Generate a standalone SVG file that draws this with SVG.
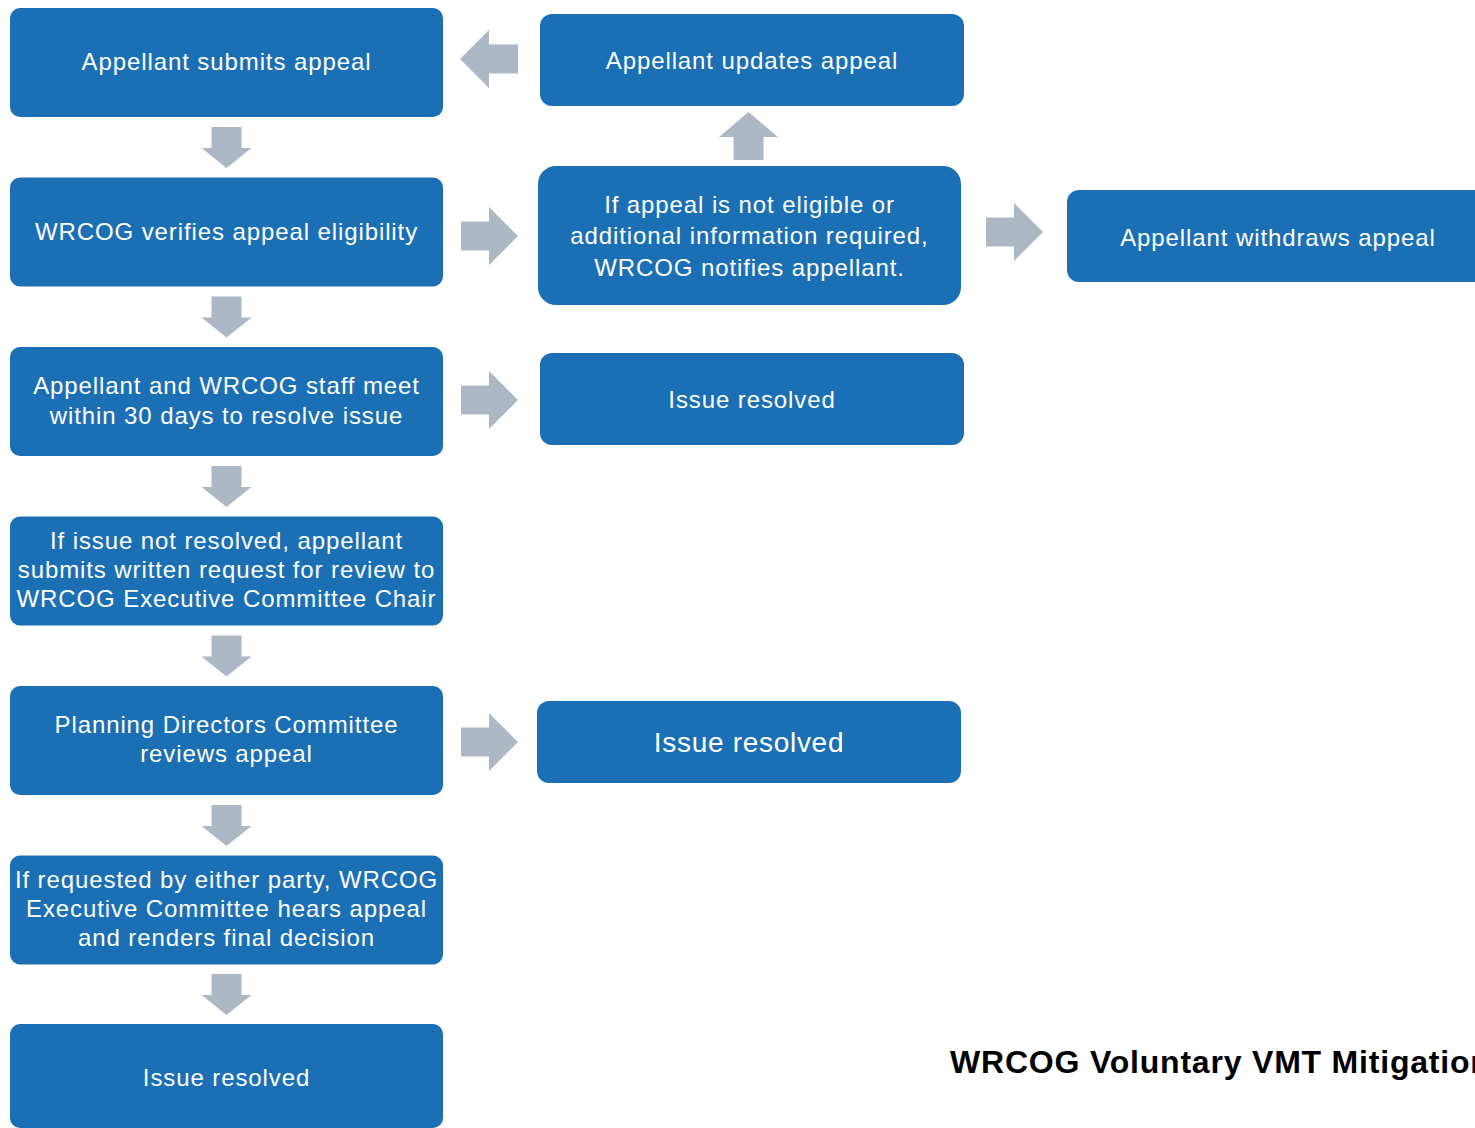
<svg xmlns="http://www.w3.org/2000/svg" width="1475" height="1128" viewBox="0 0 1475 1128">
<style>
.box{fill:#1b6fb4}
.arr{fill:#adb8c4}
.t{fill:#ffffff;font-family:"Liberation Sans",Arial,sans-serif;font-size:24px;text-anchor:middle;letter-spacing:0.9px}
.big{font-size:28px;letter-spacing:0.7px}
.title{fill:#000000;font-family:"Liberation Sans",Arial,sans-serif;font-size:32px;font-weight:bold;letter-spacing:0.8px}
</style>
<defs>
<polygon id="down" points="-15,0 15,0 15,21 25,21 0,41 -25,21 -15,21"/>
<polygon id="right" points="0,-14.5 28,-14.5 28,-29 57,0 28,29 28,14.5 0,14.5"/>
</defs>
<rect width="1475" height="1128" fill="#ffffff"/>
<g id="connectors">
<use href="#down" class="arr" x="226.5" y="127"/>
<use href="#down" class="arr" x="226.5" y="296.5"/>
<use href="#down" class="arr" x="226.5" y="466"/>
<use href="#down" class="arr" x="226.5" y="635.5"/>
<use href="#down" class="arr" x="226.5" y="805"/>
<use href="#down" class="arr" x="226.5" y="974"/>
<use href="#right" class="arr" x="461" y="236"/>
<use href="#right" class="arr" x="461" y="400"/>
<use href="#right" class="arr" x="461" y="742"/>
<use href="#right" class="arr" x="986" y="232"/>
<polygon class="arr" points="518,44.5 489,44.5 489,30 460,59 489,88 489,73.5 518,73.5"/>
<polygon class="arr" points="733.5,160 763.5,160 763.5,137 778,137 748.5,112 719,137 733.5,137"/>
</g>
<g id="n1"><rect class="box" x="10" y="8" width="433" height="109" rx="10"/><text class="t" x="226.5" y="70">Appellant submits appeal</text></g>
<g id="n2"><rect class="box" x="10" y="177.5" width="433" height="109" rx="10"/><text class="t" x="226.5" y="240">WRCOG verifies appeal eligibility</text></g>
<g id="n3"><rect class="box" x="10" y="347" width="433" height="109" rx="10"/><text class="t" x="226.5" y="394">Appellant and WRCOG staff meet</text><text class="t" x="226.5" y="424">within 30 days to resolve issue</text></g>
<g id="n4"><rect class="box" x="10" y="516.5" width="433" height="109" rx="10"/><text class="t" x="226.5" y="549">If issue not resolved, appellant</text><text class="t" x="226.5" y="578">submits written request for review to</text><text class="t" x="226.5" y="607">WRCOG Executive Committee Chair</text></g>
<g id="n5"><rect class="box" x="10" y="686" width="433" height="109" rx="10"/><text class="t" x="226.5" y="733">Planning Directors Committee</text><text class="t" x="226.5" y="762">reviews appeal</text></g>
<g id="n6"><rect class="box" x="10" y="855.5" width="433" height="109" rx="10"/><text class="t" x="226.5" y="888">If requested by either party, WRCOG</text><text class="t" x="226.5" y="917">Executive Committee hears appeal</text><text class="t" x="226.5" y="946">and renders final decision</text></g>
<g id="n7"><rect class="box" x="10" y="1024" width="433" height="104" rx="10"/><text class="t" x="226.5" y="1086">Issue resolved</text></g>
<g id="n8"><rect class="box" x="540" y="14" width="424" height="92" rx="12"/><text class="t" x="752" y="69">Appellant updates appeal</text></g>
<g id="n9"><rect class="box" x="538" y="166" width="423" height="139" rx="18"/><text class="t" x="749.5" y="213">If appeal is not eligible or</text><text class="t" x="749.5" y="244">additional information required,</text><text class="t" x="749.5" y="276">WRCOG notifies appellant.</text></g>
<g id="n10"><rect class="box" x="1067" y="190" width="430" height="92" rx="12"/><text class="t" x="1278" y="246">Appellant withdraws appeal</text></g>
<g id="n11"><rect class="box" x="540" y="353" width="424" height="92" rx="12"/><text class="t" x="752" y="408">Issue resolved</text></g>
<g id="n12"><rect class="box" x="537" y="701" width="424" height="82" rx="12"/><text class="t big" x="749" y="752">Issue resolved</text></g>
<text class="title" x="950" y="1073">WRCOG Voluntary VMT Mitigation</text>
</svg>
